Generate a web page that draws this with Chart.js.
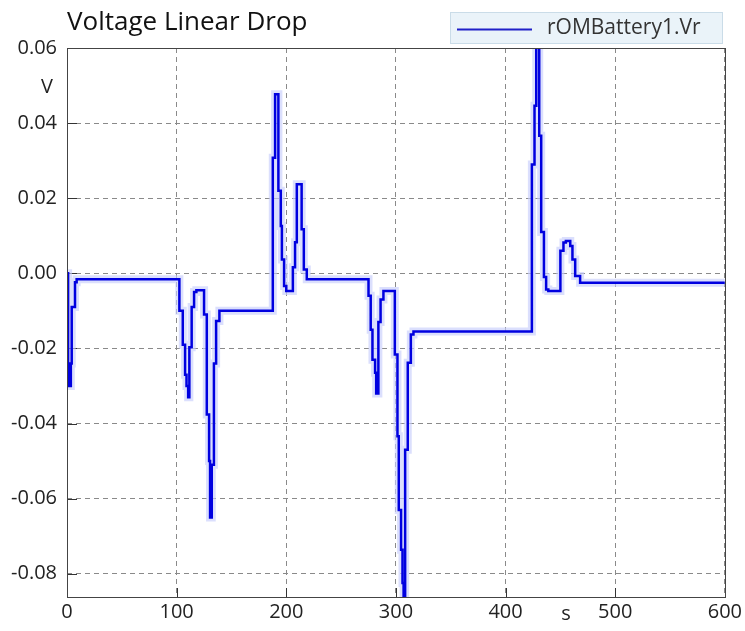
<!DOCTYPE html>
<html>
<head>
<meta charset="utf-8">
<script src="https://cdn.jsdelivr.net/npm/chart.js@4/dist/chart.umd.min.js"></script>
<style>
    html, body { margin: 0; padding: 0; background: #fff; }
    #wrap { width: 745px; height: 631px; }
</style>
</head>
<body>
<div id="wrap"><canvas id="js--chart"></canvas></div>
<script>
// time (s) where each step starts, and the voltage held from there on
const time = [
    0, 1, 2, 3.5, 4.3, 7.3, 8.8,
    102.5, 105.6, 107.7, 109, 110.5, 111.6, 113.7, 115.9, 118,
    125, 127.5, 129.6, 130.5, 132, 134, 136, 139,
    187.7, 189.8, 192.8, 195, 196, 198, 200, 206, 208, 209.6, 214, 216, 218.7,
    275, 277, 278.6, 281, 282, 284, 286, 288.6,
    299, 301.4, 302.6, 304.7, 306, 307, 308.4, 310.8, 313.6, 316,
    424, 426.4, 428, 430.7, 432.5, 435, 437, 439,
    450, 452.8, 455, 459, 461, 463.5, 468, 600
];
const voltage = [
    0, -0.024, -0.030, -0.024, -0.009, -0.0024, -0.0016,
    -0.010, -0.019, -0.027, -0.030, -0.033, -0.0197, -0.009, -0.005, -0.0045,
    -0.011, -0.0376, -0.050, -0.065, -0.051, -0.024, -0.0127, -0.010,
    0.0308, 0.0477, 0.022, 0.0126, 0.0037, -0.0034, -0.0047, 0.0016, 0.0083, 0.0237, 0.0117, 0.001, -0.0016,
    -0.006, -0.015, -0.023, -0.0265, -0.032, -0.013, -0.007, -0.0047,
    -0.0216, -0.0434, -0.063, -0.0736, -0.0825, -0.092, -0.047, -0.0238, -0.0163, -0.0155,
    0.029, 0.0446, 0.062, 0.0366, 0.011, -0.001, -0.0043, -0.0047,
    0.006, 0.0082, 0.0086, 0.0073, 0.0037, -0.0007, -0.0025, -0.0025
];
const xTicks = [0, 100, 200, 300, 400, 500, 600];
const yTicks = [0.06, 0.04, 0.02, 0.00, -0.02, -0.04, -0.06, -0.08];

const seriesName = "rOMBattery1.Vr";
const font = "'Open Sans', 'Noto Sans', sans-serif";

const points = time.map((t, i) => ({ x: t, y: voltage[i] }));

// title, legend box, unit labels, frame and inward tick marks
const decor = {
    id: "decor",
    beforeDatasetsDraw(chart) {
        const ctx = chart.ctx;
        const a = chart.chartArea;
        const xs = chart.scales.x, ys = chart.scales.y;
        ctx.save();
        ctx.strokeStyle = "#333";
        ctx.lineWidth = 1;
        ctx.beginPath();
        xTicks.forEach(v => {
            const px = Math.round(xs.getPixelForValue(v)) + 0.5;
            ctx.moveTo(px, a.bottom);
            ctx.lineTo(px, a.bottom - 9);
        });
        yTicks.forEach(v => {
            const py = Math.round(ys.getPixelForValue(v)) + 0.5;
            ctx.moveTo(a.left, py);
            ctx.lineTo(a.left + 10, py);
        });
        ctx.stroke();
        ctx.restore();
    },
    afterDraw(chart) {
        const ctx = chart.ctx;
        const a = chart.chartArea;
        ctx.save();
        ctx.strokeStyle = "#444";
        ctx.lineWidth = 1;
        ctx.strokeRect(Math.round(a.left) + 0.5, Math.round(a.top) + 0.5,
            Math.round(a.right - a.left), Math.round(a.bottom - a.top));

        ctx.fillStyle = "#111";
        ctx.font = "26px " + font;
        ctx.textBaseline = "middle";
        ctx.textAlign = "left";
        ctx.fillText("Voltage Linear Drop", 67, 23);

        // legend
        ctx.fillStyle = "#eaf3f9";
        ctx.fillRect(450, 12, 272, 31);
        ctx.strokeStyle = "#cadce8";
        ctx.strokeRect(450.5, 12.5, 272, 31);
        ctx.strokeStyle = "#2020c8";
        ctx.lineWidth = 2;
        ctx.beginPath();
        ctx.moveTo(457, 29.5);
        ctx.lineTo(532, 29.5);
        ctx.stroke();
        ctx.fillStyle = "#333";
        ctx.font = "21px " + font;
        ctx.fillText(seriesName, 547, 28);

        // units
        ctx.fillStyle = "#222";
        ctx.font = "20px " + font;
        ctx.textAlign = "center";
        ctx.fillText("V", 47, 87);
        ctx.fillText("s", 566, 614);
        ctx.restore();
    }
};

// first dataset is drawn last, so the trace comes before its halo
const data = {
    datasets: [
        {
            label: seriesName,
            data: points,
            stepped: "before",
            borderColor: "#0000e0",
            borderWidth: 2.5,
            pointRadius: 0,
            borderJoinStyle: "miter",
        },
        {
            // soft halo under the trace
            data: points,
            stepped: "before",
            borderColor: "rgba(200, 206, 252, 0.65)",
            borderWidth: 8,
            pointRadius: 0,
            borderJoinStyle: "miter",
        }
    ]
};

const config = {
    type: "line",
    data: data,
    plugins: [decor],
    options: {
        responsive: true,
        maintainAspectRatio: false,
        animation: false,
        events: [],
        layout: { padding: { top: 48, right: 20, left: 0, bottom: 0 } },
        plugins: {
            legend: { display: false },
            tooltip: { enabled: false },
            title: { display: false }
        },
        scales: {
            x: {
                type: "linear",
                min: 0,
                max: 600,
                afterBuildTicks: s => { s.ticks = xTicks.map(v => ({ value: v })); },
                afterFit: s => { s.height = 34; },
                ticks: {
                    color: "#222",
                    font: { family: font, size: 20 },
                    padding: 3,
                    maxRotation: 0,
                    callback: v => String(v)
                },
                grid: {
                    color: "#8a8a8a",
                    drawTicks: false,
                    tickLength: 0
                },
                border: { display: false, dash: [5, 4] }
            },
            y: {
                type: "linear",
                min: -0.0862,
                max: 0.06,
                afterBuildTicks: s => { s.ticks = yTicks.map(v => ({ value: v })); },
                afterFit: s => { s.width = 67; },
                ticks: {
                    color: "#222",
                    font: { family: font, size: 20 },
                    padding: 10,
                    callback: v => v.toFixed(2)
                },
                grid: {
                    color: "#8a8a8a",
                    drawTicks: false,
                    tickLength: 0
                },
                border: { display: false, dash: [5, 4] }
            }
        }
    }
};

new Chart(document.getElementById("js--chart"), config);
</script>
</body>
</html>
